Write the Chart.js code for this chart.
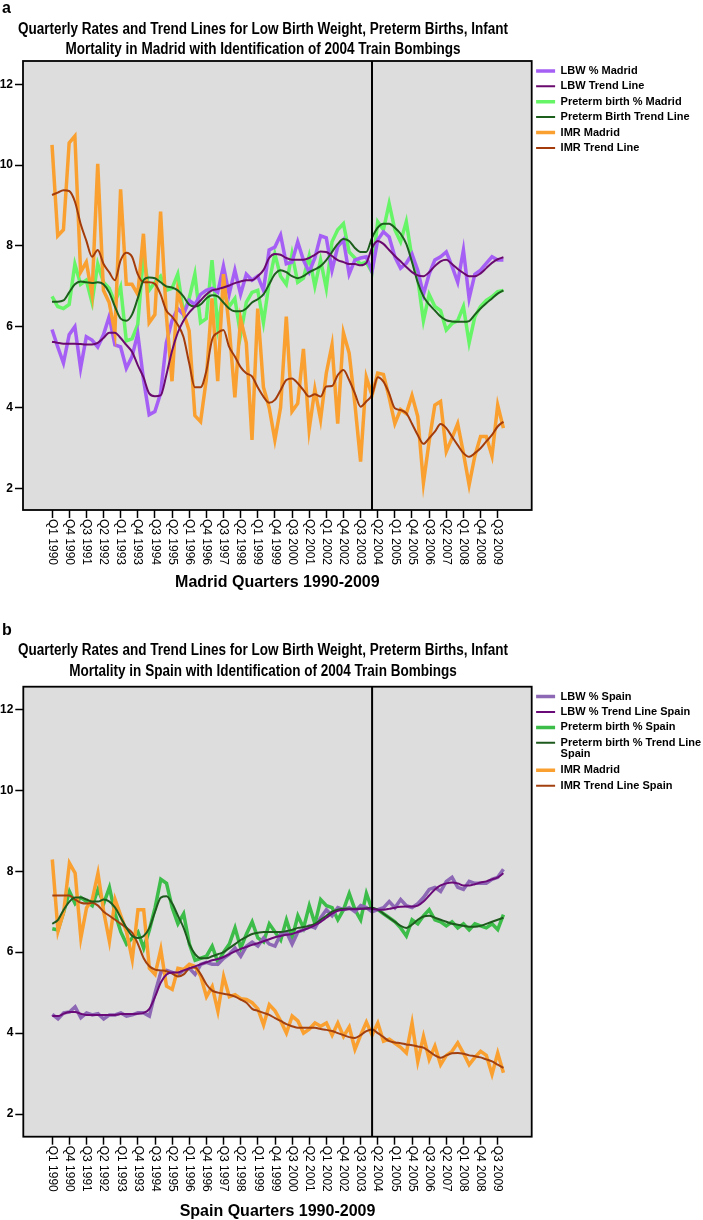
<!DOCTYPE html>
<html><head><meta charset="utf-8">
<script src="https://cdn.jsdelivr.net/npm/chart.js@4.4.1/dist/chart.umd.min.js"></script>
<style>
html,body{margin:0;padding:0;background:#fff;width:703px;height:1220px;overflow:hidden}
#wa{position:absolute;left:0;top:0;width:703px;height:612px}
#wb{position:absolute;left:0;top:612px;width:703px;height:608px}
canvas{display:block}
</style></head><body>
<div id="wa"><canvas id="ca" width="703" height="612"></canvas></div>
<div id="wb"><canvas id="cb" width="703" height="608"></canvas></div>
<script>
// ---------- categories & ticks ----------
const quarterLabels = [
"Q1 1990","Q2 1990","Q3 1990","Q4 1990","Q1 1991","Q2 1991","Q3 1991","Q4 1991",
"Q1 1992","Q2 1992","Q3 1992","Q4 1992","Q1 1993","Q2 1993","Q3 1993","Q4 1993",
"Q1 1994","Q2 1994","Q3 1994","Q4 1994","Q1 1995","Q2 1995","Q3 1995","Q4 1995",
"Q1 1996","Q2 1996","Q3 1996","Q4 1996","Q1 1997","Q2 1997","Q3 1997","Q4 1997",
"Q1 1998","Q2 1998","Q3 1998","Q4 1998","Q1 1999","Q2 1999","Q3 1999","Q4 1999",
"Q1 2000","Q2 2000","Q3 2000","Q4 2000","Q1 2001","Q2 2001","Q3 2001","Q4 2001",
"Q1 2002","Q2 2002","Q3 2002","Q4 2002","Q1 2003","Q2 2003","Q3 2003","Q4 2003",
"Q1 2004","Q2 2004","Q3 2004","Q4 2004","Q1 2005","Q2 2005","Q3 2005","Q4 2005",
"Q1 2006","Q2 2006","Q3 2006","Q4 2006","Q1 2007","Q2 2007","Q3 2007","Q4 2007",
"Q1 2008","Q2 2008","Q3 2008","Q4 2008","Q1 2009","Q2 2009","Q3 2009","Q4 2009"];
const xTickIndex = [0,3,6,9,12,15,18,21,24,27,30,33,36,39,42,45,48,51,54,57,60,63,66,69,72,75,78];
const yTickValues = [2,4,6,8,10,12];
const bombingQuarter = 56; // Q1 2004

// ---------- Madrid series ----------
const madridLBW = [
5.93,5.5,5.1,5.8,6.0,4.97,5.75,5.67,5.5,5.8,
6.25,5.55,5.5,4.97,5.26,5.83,4.7,3.82,3.9,4.35,
5.6,6.15,6.45,6.3,6.65,6.55,6.8,6.9,6.95,6.85,
7.5,6.8,7.4,6.8,7.3,7.15,7.25,6.9,7.9,7.97,
8.27,7.56,7.6,8.1,7.65,7.35,7.7,8.25,8.2,7.4,
7.98,8.15,7.3,7.65,7.7,7.73,7.36,8.15,8.35,8.22,
7.73,7.45,7.57,7.8,7.4,6.8,7.3,7.65,7.73,7.85,
7.5,7.1,7.9,6.7,7.3,7.4,7.57,7.73,7.65,7.65];
const madridLBWTrend = [
5.63,5.6,5.58,5.58,5.58,5.57,5.56,5.56,5.6,5.72,
5.85,5.85,5.72,5.55,5.38,5.05,4.75,4.35,4.28,4.3,
4.8,5.4,5.85,6.15,6.35,6.5,6.65,6.8,6.9,6.93,
6.97,7.02,7.08,7.12,7.15,7.15,7.25,7.4,7.7,7.8,
7.78,7.7,7.66,7.66,7.66,7.7,7.78,7.86,7.85,7.75,
7.65,7.6,7.55,7.55,7.52,7.58,7.95,8.12,8.05,7.9,
7.75,7.62,7.48,7.35,7.27,7.25,7.35,7.5,7.62,7.66,
7.55,7.43,7.33,7.25,7.25,7.32,7.45,7.58,7.67,7.72];
const madridPreterm = [
6.75,6.5,6.45,6.55,7.55,7.05,7.15,6.6,7.55,7.1,
6.95,6.6,6.98,5.65,5.7,6.05,7.75,6.9,7.1,7.25,
6.9,6.95,7.3,6.35,6.7,7.3,6.1,6.2,7.65,6.0,
6.85,6.5,6.7,5.8,6.6,6.85,6.9,6.1,7.1,7.8,
7.25,7.05,7.8,7.1,7.2,7.75,7.0,7.65,6.95,8.1,
8.4,8.55,7.85,7.7,7.55,7.6,7.35,8.6,8.4,9.05,
8.4,8.1,8.6,7.7,7.2,6.15,6.8,6.5,6.4,5.92,
6.08,6.15,6.5,5.6,6.25,6.5,6.65,6.74,6.87,6.9];
const madridPretermTrend = [
6.62,6.62,6.65,6.85,7.05,7.12,7.1,7.08,7.1,7.05,
6.85,6.5,6.2,6.15,6.3,6.7,7.15,7.22,7.2,7.1,
7.0,6.97,6.9,6.75,6.55,6.5,6.55,6.7,6.78,6.75,
6.6,6.45,6.38,6.38,6.45,6.6,6.68,6.8,7.05,7.3,
7.4,7.35,7.25,7.2,7.25,7.35,7.42,7.5,7.65,7.85,
8.05,8.17,8.12,7.95,7.85,7.85,8.2,8.45,8.55,8.55,
8.45,8.3,8.05,7.6,7.1,6.75,6.55,6.4,6.25,6.16,
6.13,6.12,6.12,6.14,6.3,6.45,6.58,6.7,6.82,6.9];
const madridIMR = [
10.5,8.25,8.4,10.55,10.72,7.35,7.6,6.8,10.03,6.9,
6.6,5.85,9.4,7.05,7.05,6.8,8.3,6.1,6.3,8.85,
6.3,4.65,6.9,6.35,5.9,3.8,3.65,4.7,6.7,4.65,
7.3,6.0,4.25,6.2,5.6,3.2,6.45,4.5,4.0,3.2,
4.0,6.25,3.9,4.1,5.45,3.45,4.45,3.7,4.85,5.55,
3.6,5.85,5.35,4.1,2.66,4.75,4.3,4.85,4.82,4.25,
3.6,3.95,3.85,4.3,3.78,2.13,3.16,4.06,4.15,2.91,
3.24,3.6,2.87,2.08,2.8,3.28,3.28,2.8,4.06,3.49];
const madridIMRTrend = [
9.26,9.32,9.38,9.36,9.1,8.55,8.13,7.73,7.9,7.56,
7.35,7.15,7.64,7.83,7.73,7.3,7.1,7.1,7.06,6.8,
6.4,6.25,6.05,5.75,5.1,4.5,4.5,4.9,5.67,5.85,
5.92,5.5,5.26,5.0,4.85,4.77,4.5,4.27,4.12,4.19,
4.43,4.68,4.72,4.6,4.43,4.27,4.33,4.27,4.52,4.53,
4.8,4.93,4.68,4.35,4.02,4.15,4.31,4.75,4.64,4.35,
3.98,3.94,3.86,3.6,3.32,3.1,3.24,3.4,3.59,3.49,
3.28,3.07,2.87,2.78,2.87,2.99,3.16,3.32,3.53,3.65];

// ---------- Spain series ----------
const spainLBW = [
4.46,4.35,4.5,4.52,4.65,4.38,4.5,4.45,4.48,4.35,
4.45,4.45,4.5,4.42,4.45,4.5,4.5,4.42,5.0,5.5,
5.55,5.5,5.45,5.55,5.6,5.45,5.7,5.75,5.7,5.7,
5.85,5.95,6.1,5.9,6.15,6.25,6.15,6.35,6.2,6.15,
6.45,6.5,6.2,6.5,6.55,6.65,6.6,6.85,7.05,6.9,
7.1,7.05,7.1,7.0,7.15,7.1,7.0,7.05,7.1,7.25,
7.1,7.3,7.15,7.1,7.2,7.35,7.55,7.6,7.5,7.75,
7.85,7.6,7.55,7.75,7.7,7.7,7.7,7.8,7.85,8.05];
const spainLBWTrend = [
4.42,4.42,4.48,4.52,4.52,4.48,4.45,4.45,4.45,4.45,
4.45,4.45,4.47,4.47,4.47,4.48,4.5,4.6,4.9,5.25,
5.45,5.5,5.5,5.55,5.6,5.65,5.7,5.75,5.8,5.83,
5.88,5.95,6.02,6.08,6.13,6.18,6.22,6.27,6.32,6.37,
6.4,6.43,6.45,6.5,6.55,6.6,6.67,6.75,6.85,6.95,
7.02,7.05,7.06,7.06,7.07,7.08,7.07,7.05,7.05,7.07,
7.1,7.12,7.13,7.13,7.15,7.25,7.4,7.55,7.65,7.7,
7.72,7.7,7.65,7.65,7.68,7.72,7.75,7.8,7.85,7.95];
const spainPreterm = [
6.58,6.55,7.0,7.5,7.2,7.35,7.25,7.15,7.55,7.2,
7.6,6.95,6.5,6.2,6.35,6.5,6.1,6.55,7.1,7.8,
7.7,7.1,6.7,6.95,6.2,5.8,5.85,5.9,6.15,5.75,
6.0,6.2,6.6,6.1,6.45,6.75,6.35,6.25,6.7,6.5,
6.3,6.8,6.35,6.9,6.6,7.15,6.7,7.3,7.15,7.1,
6.8,7.05,7.45,7.05,6.8,7.45,7.05,7.05,6.95,6.85,
6.75,6.6,6.4,6.8,6.7,6.9,7.05,6.8,6.75,6.65,
6.75,6.6,6.7,6.55,6.7,6.65,6.6,6.7,6.56,6.93];
const spainPretermTrend = [
6.7,6.8,7.05,7.25,7.35,7.35,7.3,7.25,7.25,7.3,
7.25,7.1,6.85,6.6,6.4,6.35,6.4,6.6,7.0,7.35,
7.38,7.2,6.9,6.6,6.2,5.95,5.85,5.85,5.9,5.95,
6.0,6.1,6.2,6.3,6.38,6.45,6.48,6.5,6.5,6.5,
6.5,6.52,6.55,6.6,6.62,6.65,6.7,6.8,6.9,7.0,
7.05,7.07,7.07,7.07,7.07,7.08,7.1,7.05,6.95,6.85,
6.75,6.65,6.6,6.68,6.8,6.88,6.9,6.85,6.8,6.75,
6.7,6.68,6.65,6.63,6.63,6.65,6.7,6.75,6.8,6.85];
const spainIMR = [
8.29,6.52,7.0,8.2,7.95,6.35,7.1,7.3,7.95,7.0,
6.27,7.3,6.9,6.5,5.82,7.05,7.05,5.6,5.45,6.07,
5.16,5.08,5.6,5.57,5.7,5.65,5.4,4.9,5.15,4.54,
5.4,4.9,4.95,4.85,4.83,4.75,4.6,4.2,4.7,4.55,
4.3,4.0,4.42,4.3,4.0,4.1,4.25,4.17,4.25,3.95,
4.25,3.92,4.15,3.6,3.95,4.27,3.95,4.25,3.8,3.85,
3.75,3.65,3.51,4.25,3.3,3.92,3.35,3.68,3.22,3.45,
3.55,3.76,3.5,3.22,3.4,3.55,3.45,2.98,3.51,3.02];
const spainIMRTrend = [
7.4,7.4,7.4,7.4,7.3,7.22,7.2,7.22,7.15,7.0,
6.9,6.8,6.7,6.6,6.48,6.2,5.85,5.65,5.57,5.55,
5.53,5.47,5.4,5.45,5.6,5.62,5.45,5.2,5.05,5.0,
4.97,4.95,4.9,4.83,4.75,4.6,4.55,4.5,4.45,4.37,
4.3,4.22,4.17,4.13,4.13,4.13,4.13,4.1,4.08,4.05,
4.0,3.95,3.9,3.88,3.95,4.05,4.09,4.0,3.9,3.8,
3.77,3.75,3.72,3.7,3.67,3.64,3.55,3.45,3.39,3.45,
3.5,3.51,3.49,3.45,3.43,3.4,3.35,3.3,3.22,3.14];

// ---------- text ----------
const titleLine1 = "Quarterly Rates and Trend Lines for Low Birth Weight, Preterm Births, Infant";
const titleA2 = "Mortality in Madrid with Identification of 2004 Train Bombings";
const titleB2 = "Mortality in Spain with Identification of 2004 Train Bombings";
const legendA = ["LBW % Madrid","LBW Trend Line","Preterm birth % Madrid","Preterm Birth Trend Line","IMR Madrid","IMR Trend Line"];
const legendB = ["LBW % Spain","LBW % Trend Line Spain","Preterm birth % Spain",["Preterm birth % Trend Line","Spain"],"IMR Madrid","IMR Trend Line Spain"];

const FONT = "'Liberation Sans', Arial, Helvetica, sans-serif";
Chart.defaults.font.family = FONT;
Chart.defaults.color = '#000';

const decor = {
  id: 'decor',
  beforeLayout(chart) {
    const lg = chart.legend, o = chart.options.plugins.decor;
    if (lg && !lg.__patched) {
      const f = lg.fit;
      lg.fit = function () { f.call(this); this.width = o.legendW; };
      lg.__patched = true;
    }
  },
  beforeDraw(chart, args, o) {
    const {ctx, chartArea: a} = chart;
    ctx.save();
    ctx.fillStyle = o.plotBg;
    ctx.fillRect(a.left, a.top, a.right - a.left, a.bottom - a.top);
    ctx.restore();
  },
  afterDatasetsDraw(chart, args, o) {
    const {ctx, chartArea: a, scales} = chart;
    const px = scales.x.getPixelForValue(o.eventX);
    ctx.save();
    ctx.strokeStyle = '#000';
    ctx.lineWidth = 2;
    ctx.beginPath(); ctx.moveTo(px, a.top); ctx.lineTo(px, a.bottom); ctx.stroke();
    ctx.lineWidth = 1.8;
    ctx.strokeRect(a.left, a.top, a.right - a.left, a.bottom - a.top);
    ctx.restore();
  },
  afterDraw(chart, args, o) {
    const {ctx, chartArea: a, scales} = chart;
    ctx.save();
    ctx.fillStyle = '#000';
    // x tick labels, rotated clockwise
    ctx.font = "12px " + FONT;
    ctx.textAlign = 'left'; ctx.textBaseline = 'middle';
    for (const idx of o.tickIdx) {
      const px = scales.x.getPixelForValue(idx);
      ctx.save();
      ctx.translate(px, a.bottom + o.labelGap);
      ctx.rotate(Math.PI / 2);
      ctx.fillText(o.labels[idx], 0, 0);
      ctx.restore();
    }
    // panel letter
    ctx.font = "bold 16px " + FONT;
    ctx.textAlign = 'left'; ctx.textBaseline = 'alphabetic';
    ctx.fillText(o.letter, o.letterX, o.letterY);
    // title, horizontally condensed to match
    ctx.font = "bold 16px " + FONT;
    ctx.textAlign = 'center';
    const w1 = ctx.measureText(o.title[0]).width;
    const sx = o.titleW / w1;
    o.title.forEach((t, i) => {
      ctx.save();
      ctx.translate(o.titleX, o.titleY[i]);
      ctx.scale(sx, 1);
      ctx.fillText(t, 0, 0);
      ctx.restore();
    });
    ctx.restore();
  }
};
Chart.register(decor);

function pts(arr) { return arr.map((v, i) => ({x: i, y: v})); }

function build(canvasId, c) {
  const datasets = c.series.map((s, k) => ({
    label: c.legend[k],
    data: pts(s.data),
    borderColor: s.color,
    backgroundColor: s.color,
    borderWidth: s.trend ? 2 : 3.5,
    pointRadius: 0, pointHoverRadius: 0,
    fill: false,
    tension: s.trend ? 0.4 : 0,
    cubicInterpolationMode: s.trend ? 'monotone' : 'default',
    order: s.order
  }));
  return new Chart(document.getElementById(canvasId), {
    type: 'line',
    data: {datasets},
    options: {
      responsive: false, animation: false, devicePixelRatio: 1,
      events: [],
      layout: {padding: {top: c.top, left: 0, right: 0, bottom: 0}, autoPadding: false},
      plugins: {
        tooltip: {enabled: false},
        title: {display: false},
        legend: {
          position: 'right', align: 'start',
          labels: {
            usePointStyle: true, pointStyle: 'line', pointStyleWidth: 19, boxHeight: 11,
            padding: c.legendPad, color: '#000',
            font: {size: 11, weight: 'bold', lineHeight: 1.05},
            sort: (a, b) => a.datasetIndex - b.datasetIndex
          }
        },
        decor: {
          legendW: c.legendW, plotBg: '#dddddd', eventX: bombingQuarter,
          tickIdx: xTickIndex, labels: quarterLabels, labelGap: 9,
          letter: c.letter, letterX: 2, letterY: c.letterY,
          title: c.title, titleX: 263, titleY: c.titleY, titleW: 490
        }
      },
      scales: {
        x: {
          type: 'linear', min: -5.08, max: 83.95,
          afterBuildTicks: s => { s.ticks = xTickIndex.map(v => ({value: v})); },
          afterFit: s => { s.height = c.xH; },
          ticks: {display: false, autoSkip: false},
          grid: {display: true, drawOnChartArea: false, drawTicks: true, tickLength: 8, tickColor: '#000', tickWidth: 1.5, color: '#000'},
          border: {display: false},
          title: {display: true, text: c.xTitle, color: '#000', font: {size: 16, weight: 'bold', lineHeight: 1}, padding: {top: 0, bottom: c.xTitlePad}}
        },
        y: {
          min: c.yMin, max: c.yMax,
          afterBuildTicks: s => { s.ticks = yTickValues.map(v => ({value: v})); },
          afterFit: s => { s.width = c.yW; },
          ticks: {font: {size: 12, weight: 'bold'}, color: '#000', padding: 2},
          grid: {display: true, drawOnChartArea: false, drawTicks: true, tickLength: 8, tickColor: '#000', tickWidth: 1.5},
          border: {display: false}
        }
      }
    }
  });
}

build('ca', {
  top: 61, xH: 102, yW: 23, legendW: 171.3, legendPad: 4.4,
  yMin: 1.463, yMax: 12.577,
  xTitle: 'Madrid Quarters 1990-2009', xTitlePad: 21,
  letter: 'a', letterY: 13,
  title: [titleLine1, titleA2], titleY: [33.5, 53.5],
  legend: legendA,
  series: [
    {data: madridLBW, color: '#a55ff5', order: 3},
    {data: madridLBWTrend, color: '#6a0a6e', trend: true, order: 0},
    {data: madridPreterm, color: '#66f566', order: 4},
    {data: madridPretermTrend, color: '#1c5e1c', trend: true, order: 0},
    {data: madridIMR, color: '#f9a030', order: 2},
    {data: madridIMRTrend, color: '#a33c0a', trend: true, order: 0}
  ]
});

build('cb', {
  top: 74.7, xH: 83.3, yW: 23.3, legendW: 171.3, legendPad: 4.4,
  yMin: 1.44, yMax: 12.56,
  xTitle: 'Spain Quarters 1990-2009', xTitlePad: 0,
  letter: 'b', letterY: 23,
  title: [titleLine1, titleB2], titleY: [43, 64],
  legend: legendB,
  series: [
    {data: spainLBW, color: '#8d68b5', order: 3},
    {data: spainLBWTrend, color: '#6a0a78', trend: true, order: 0},
    {data: spainPreterm, color: '#3cbc48', order: 4},
    {data: spainPretermTrend, color: '#1e5a1e', trend: true, order: 0},
    {data: spainIMR, color: '#f9a030', order: 2},
    {data: spainIMRTrend, color: '#a3400f', trend: true, order: 0}
  ]
});
</script>
</body></html>
